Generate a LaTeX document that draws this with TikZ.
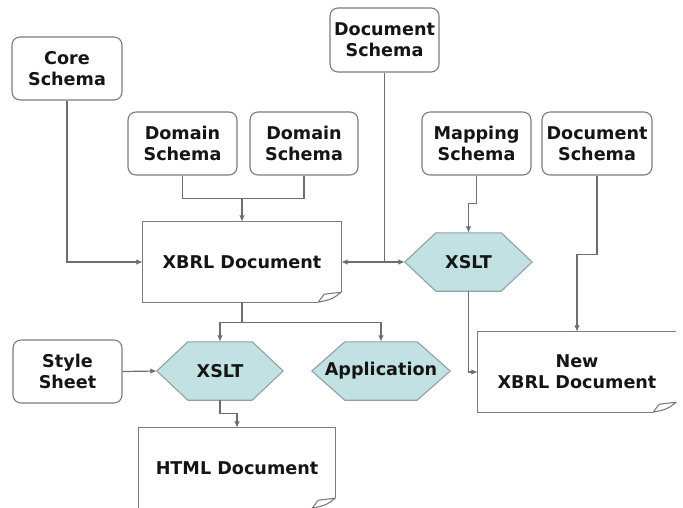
\documentclass[tikz,border=0pt]{standalone}
\usepackage{fontspec}
\setmainfont{DejaVu Sans}
\usetikzlibrary{arrows.meta,backgrounds,calc}
\definecolor{wirecol}{HTML}{6E6E6E}
\definecolor{edgecol}{HTML}{7C7C7C}
\definecolor{hexfill}{HTML}{C2E1E3}
\definecolor{hexedge}{HTML}{8FA2A4}
\definecolor{inkcol}{HTML}{151515}

% page outline with a curled bottom-right corner
\newcommand\docoutline[1]{%
  \draw[docedge] ([yshift=10pt]#1.south east) -- (#1.north east) -- (#1.north west)
    -- (#1.south west) -- ([xshift=-23pt]#1.south east);
  \docfold{#1}}
\newcommand\docoutlineopen[1]{%
  \draw[docedge] (#1.north east) -- (#1.north west)
    -- (#1.south west) -- ([xshift=-23pt]#1.south east);
  \docfold{#1}}
\newcommand\docfold[1]{%
  \draw[docedge, fill=white, line join=round] ([xshift=-23pt]#1.south east)
    -- ([xshift=-17pt,yshift=8pt]#1.south east) -- ([yshift=10pt]#1.south east)
    .. controls ([xshift=-9pt,yshift=3pt]#1.south east) .. ([xshift=-23pt]#1.south east);}
% process hexagon drawn round a node
\newcommand\hexoutline[2]{%
  \draw[hexline] (#1.west) -- ([xshift=#2]#1.north west) -- ([xshift=-#2]#1.north east)
    -- (#1.east) -- ([xshift=-#2]#1.south east) -- ([xshift=#2]#1.south west) -- cycle;}

\begin{document}
\begin{tikzpicture}[x=1pt,y=-1pt,
  every node/.style={font=\fontsize{17.6}{21}\selectfont\bfseries, text=inkcol, align=center},
  schemabox/.style={draw=edgecol, line width=1.1pt, rounded corners=8pt, fill=white,
    minimum width=109pt, minimum height=63pt, inner sep=0pt},
  docbox/.style={inner sep=0pt, minimum width=198pt, minimum height=80pt},
  hexbox/.style={inner sep=0pt, minimum height=58pt},
  docedge/.style={draw=edgecol, line width=1.1pt},
  hexline/.style={draw=hexedge, fill=hexfill, line width=1.1pt},
  wire/.style={draw=wirecol, line width=1.2pt},
  arr/.style={wire, -{Latex[length=6.5pt,width=5.5pt]}},
  twoarr/.style={wire, {Latex[length=6.5pt,width=5.5pt]}-{Latex[length=6.5pt,width=5.5pt]}}]
\useasboundingbox (0,0) rectangle (683,507);

% schema boxes
\node[schemabox, minimum width=110pt] (core) at (67,68.5) {Core\\Schema};
\node[schemabox] (dom1) at (182.5,143.5) {Domain\\Schema};
\node[schemabox, minimum width=108pt] (dom2) at (304,143.5) {Domain\\Schema};
\node[schemabox, minimum height=64pt] (docA) at (384.5,40) {Document\\Schema};
\node[schemabox] (map) at (476.5,143.5) {Mapping\\Schema};
\node[schemabox, minimum width=110pt] (docB) at (597,143.5) {Document\\Schema};
\node[schemabox] (style) at (67.5,371.5) {Style\\Sheet};

% documents
\node[docbox] (xbrl) at (242,262) {XBRL Document};
\node[docbox] (newx) at (577,372) {New\\XBRL Document};
\node[docbox, minimum width=196pt] (html) at (237,468) {HTML Document};

% processes
\node[hexbox, minimum width=127pt] (xsltR) at (468.5,262) {XSLT};
\node[hexbox, minimum width=126pt] (xsltL) at (220,371) {XSLT};
\node[hexbox, minimum width=138pt] (app) at (381,371) {Application};

\begin{scope}[on background layer]
  \docoutline{xbrl}
  \docoutlineopen{newx}
  \docoutline{html}
  \hexoutline{xsltR}{31pt}
  \hexoutline{xsltL}{31pt}
  \hexoutline{app}{33pt}
\end{scope}

% connectors
\draw[arr] (core.south) |- (xbrl.west);
\coordinate (domj) at ($(xbrl.north)+(0,-23)$);
\draw[wire] (dom1.south) |- (domj) -| (dom2.south);
\draw[arr] (domj) -- (xbrl.north);
\draw[twoarr] (xbrl.east) -- (xsltR.west);
\draw[wire] (docA.south) -- (docA.south |- xsltR.west);
\draw[arr] (map.south) -- ++(0,28) -| (xsltR.north);
\draw[arr] (docB.south) -- ++(0,79) -| (newx.north);
\draw[arr] (xsltR.south) |- (newx.west);
\coordinate (splitj) at ($(xbrl.south)+(0,20)$);
\draw[wire] (xbrl.south) -- (splitj);
\draw[arr] (splitj) -| (xsltL.north);
\draw[arr] (splitj) -| (app.north);
\draw[arr] (style.east) -- (xsltL.west);
\draw[arr] (xsltL.south) -- ++(0,13) -| (html.north);
\end{tikzpicture}
\end{document}
